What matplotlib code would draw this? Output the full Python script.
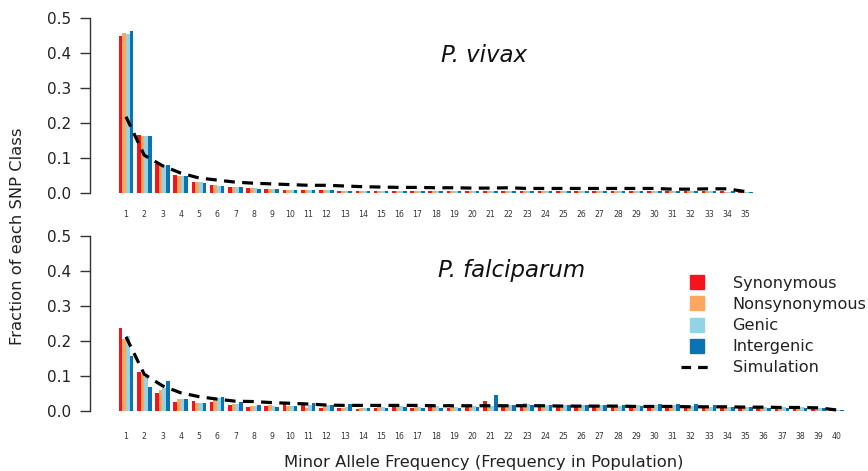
import numpy as np
import matplotlib
matplotlib.use("Agg")
import matplotlib.pyplot as plt
from matplotlib.lines import Line2D

plt.rcParams['font.family'] = ['DejaVu Sans']

classes = ["Synonymous", "Nonsynonymous", "Genic", "Intergenic"]
colors = ["#F5141C", "#FDA75E", "#93D3E6", "#0B73B3"]

# ---- P. vivax (35 frequency classes) ----
vivax_syn = [0.449, 0.166, 0.082, 0.051, 0.032, 0.023, 0.016, 0.013, 0.012, 0.010,
             0.009, 0.008, 0.007, 0.007, 0.006, 0.007, 0.006, 0.006, 0.006, 0.005,
             0.006, 0.006, 0.005, 0.005, 0.005, 0.005, 0.005, 0.005, 0.005, 0.005,
             0.005, 0.005, 0.005, 0.005, 0.002]
vivax_non = [0.456, 0.163, 0.078, 0.050, 0.031, 0.023, 0.016, 0.013, 0.011, 0.010,
             0.009, 0.008, 0.007, 0.006, 0.006, 0.006, 0.006, 0.005, 0.005, 0.005,
             0.005, 0.005, 0.005, 0.005, 0.005, 0.005, 0.005, 0.005, 0.005, 0.005,
             0.005, 0.005, 0.005, 0.004, 0.002]
vivax_gen = [0.453, 0.163, 0.078, 0.048, 0.031, 0.021, 0.016, 0.013, 0.011, 0.010,
             0.009, 0.008, 0.007, 0.006, 0.006, 0.006, 0.006, 0.005, 0.005, 0.005,
             0.005, 0.005, 0.005, 0.005, 0.005, 0.005, 0.005, 0.005, 0.005, 0.005,
             0.005, 0.005, 0.005, 0.004, 0.002]
vivax_int = [0.464, 0.162, 0.080, 0.048, 0.030, 0.020, 0.016, 0.012, 0.011, 0.010,
             0.009, 0.008, 0.007, 0.007, 0.007, 0.006, 0.006, 0.006, 0.006, 0.005,
             0.005, 0.005, 0.005, 0.005, 0.005, 0.005, 0.005, 0.005, 0.006, 0.006,
             0.006, 0.006, 0.005, 0.005, 0.002]
vivax_sim = [0.218, 0.108, 0.078, 0.057, 0.043, 0.037, 0.031, 0.028, 0.026, 0.024,
             0.022, 0.022, 0.020, 0.018, 0.017, 0.016, 0.016, 0.015, 0.015, 0.014,
             0.014, 0.015, 0.013, 0.013, 0.013, 0.013, 0.013, 0.013, 0.013, 0.013,
             0.011, 0.011, 0.012, 0.012, 0.004]

# ---- P. falciparum (40 frequency classes) ----
falc_syn = [0.236, 0.112, 0.052, 0.027, 0.029, 0.027, 0.017, 0.012, 0.014, 0.019,
            0.020, 0.010, 0.009, 0.006, 0.008, 0.014, 0.010, 0.012, 0.010, 0.012,
            0.029, 0.013, 0.014, 0.012, 0.012, 0.012, 0.014, 0.016, 0.012, 0.012,
            0.012, 0.012, 0.011, 0.011, 0.010, 0.010, 0.010, 0.010, 0.010, 0.004]
falc_non = [0.207, 0.105, 0.060, 0.034, 0.022, 0.033, 0.019, 0.014, 0.017, 0.014,
            0.010, 0.017, 0.009, 0.009, 0.012, 0.016, 0.014, 0.014, 0.012, 0.014,
            0.016, 0.016, 0.022, 0.018, 0.018, 0.016, 0.016, 0.016, 0.014, 0.014,
            0.014, 0.014, 0.013, 0.012, 0.012, 0.012, 0.012, 0.014, 0.012, 0.003]
falc_gen = [0.215, 0.098, 0.065, 0.033, 0.024, 0.038, 0.019, 0.014, 0.014, 0.014,
            0.017, 0.017, 0.012, 0.009, 0.012, 0.014, 0.012, 0.014, 0.012, 0.014,
            0.014, 0.016, 0.020, 0.018, 0.016, 0.016, 0.016, 0.014, 0.016, 0.016,
            0.016, 0.014, 0.012, 0.012, 0.012, 0.012, 0.012, 0.012, 0.010, 0.004]
falc_int = [0.157, 0.068, 0.086, 0.034, 0.022, 0.039, 0.027, 0.016, 0.012, 0.014,
            0.022, 0.017, 0.020, 0.010, 0.010, 0.012, 0.010, 0.010, 0.010, 0.012,
            0.046, 0.018, 0.017, 0.016, 0.016, 0.016, 0.018, 0.016, 0.014, 0.020,
            0.020, 0.020, 0.016, 0.012, 0.012, 0.010, 0.010, 0.010, 0.008, 0.003]
falc_sim = [0.212, 0.105, 0.072, 0.052, 0.041, 0.034, 0.028, 0.027, 0.024, 0.022,
            0.020, 0.017, 0.016, 0.016, 0.016, 0.016, 0.016, 0.015, 0.015, 0.015,
            0.015, 0.015, 0.015, 0.015, 0.014, 0.014, 0.014, 0.014, 0.013, 0.013,
            0.013, 0.012, 0.012, 0.012, 0.011, 0.011, 0.010, 0.010, 0.009, 0.003]

W, H = 868, 471
fig = plt.figure(figsize=(W / 100, H / 100), dpi=100)

def px_axes(left, right, y0, y1):
    return fig.add_axes([left / W, 1 - y0 / H, (right - left) / W, (y0 - y1) / H])

unit = 18.22 / 5.0
x_left_unit = 3 - (126 - 90) / unit
x_right_unit = 3 + (868 - 126) / unit

def draw_panel(ax, series, sim, title, title_xy, label_pad):
    n = len(sim)
    groups = np.arange(n)
    base = 1 + 5 * groups
    for j, (vals, c) in enumerate(zip(series, colors)):
        ax.bar(base + j + 0.5, vals, width=1.0, color=c, linewidth=0, clip_on=False, zorder=2)
    ax.plot(base + 2, sim, color="black", lw=2.3, linestyle=(0, (3.4, 2.3)),
            zorder=3, clip_on=False)
    ax.set_xlim(x_left_unit, x_right_unit)
    ax.set_ylim(0, 0.5)
    for s in ["top", "right", "bottom"]:
        ax.spines[s].set_visible(False)
    ax.spines["left"].set_bounds(0, 0.5)
    ax.spines["left"].set_color("#333333")
    ax.spines["left"].set_linewidth(1.0)
    ax.set_yticks([0, 0.1, 0.2, 0.3, 0.4, 0.5])
    ax.set_yticklabels(["0.0", "0.1", "0.2", "0.3", "0.4", "0.5"])
    ax.tick_params(axis="y", length=7.5, width=1.0, color="#333333", labelsize=11,
                   labelcolor="#222222", pad=6)
    ax.set_xticks(base + 2)
    ax.set_xticklabels([str(i + 1) for i in groups])
    ax.tick_params(axis="x", length=0, labelsize=5.6, labelcolor="#333333", pad=label_pad)
    ax.patch.set_visible(False)
    ax.text(title_xy[0], title_xy[1], title, transform=fig.transFigure, ha="center",
            va="center", fontsize=16.5, style="italic", color="#111111")

ax1 = px_axes(90, 868, 193, 18)
ax2 = px_axes(90, 868, 411, 236)

draw_panel(ax1, [vivax_syn, vivax_non, vivax_gen, vivax_int], vivax_sim,
           "P. vivax", (484 / W, 1 - 55 / H), 12.5)
draw_panel(ax2, [falc_syn, falc_non, falc_gen, falc_int], falc_sim,
           "P. falciparum", (512 / W, 1 - 270 / H), 15)

fig.text(18 / W, 1 - 236 / H, "Fraction of each SNP Class", rotation=90, ha="center",
         va="center", fontsize=11.8, color="#222222")
fig.text(484 / W, 1 - 463 / H, "Minor Allele Frequency (Frequency in Population)",
         ha="center", va="center", fontsize=11.8, color="#222222")

handles = [Line2D([], [], marker="s", linestyle="none", markersize=10.5,
                  markerfacecolor=c, markeredgecolor=c) for c in colors]
handles.append(Line2D([], [], color="black", lw=2.3, linestyle=(0, (3.0, 2.2))))
fig.legend(handles, classes + ["Simulation"], loc="upper left",
           bbox_to_anchor=(681 / W, 1 - 276 / H), frameon=False, fontsize=11.6,
           handlelength=2.0, handletextpad=1.2, labelspacing=0.38, borderpad=0,
           borderaxespad=0, labelcolor="#222222")

fig.savefig("out.png", dpi=100)
